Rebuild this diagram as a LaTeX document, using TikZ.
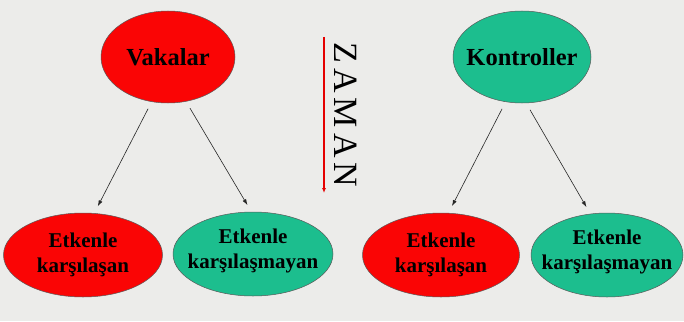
\documentclass[tikz,border=0pt]{standalone}
\usepackage{fontspec}
\setmainfont{Liberation Serif}
\usetikzlibrary{shapes.geometric,arrows.meta}

\definecolor{zemin}{RGB}{236,236,234}
\definecolor{vakakirmizi}{RGB}{250,5,5}
\definecolor{kontrolyesil}{RGB}{28,190,142}

\tikzset{
  vaka/.style={ellipse,draw=black!65,line width=0.5pt,fill=vakakirmizi,inner sep=0pt,outer sep=0pt},
  kontrol/.style={ellipse,draw=black!65,line width=0.5pt,fill=kontrolyesil,inner sep=0pt,outer sep=0pt},
  ustyazi/.style={font=\fontsize{24.5pt}{28pt}\selectfont\bfseries,inner sep=0pt},
  altyazi/.style={font=\fontsize{21pt}{25pt}\selectfont\bfseries,align=center,inner sep=0pt},
  ok/.style={draw=black!85,line width=0.6pt,-{Latex[length=6pt,width=4pt]},shorten <=8pt,shorten >=8pt}
}

\begin{document}
\begin{tikzpicture}[x=1pt,y=-1pt]
\fill [color=zemin] (0, 0) rectangle (684, 321);

% ust
\node (vak) at (168, 57) [vaka,minimum width=134pt,minimum height=92pt,label={[ustyazi]center:Vakalar}] {};
\node (kon) at (522, 57) [kontrol,minimum width=138pt,minimum height=92pt,label={[ustyazi]center:Kontroller}] {};

% alt
\node (vakvar) at (83, 255) [vaka,minimum width=159pt,minimum height=84pt,label={[altyazi]center:Etkenle\\karşılaşan}] {};
\node (vakyok) at (253, 254) [kontrol,minimum width=160pt,minimum height=84pt,label={[altyazi,yshift=3pt]center:Etkenle\\karşılaşmayan}] {};
\node (konvar) at (441, 255) [vaka,minimum width=157pt,minimum height=84pt,label={[altyazi]center:Etkenle\\karşılaşan}] {};
\node (konyok) at (607, 255) [kontrol,minimum width=152pt,minimum height=84pt,label={[altyazi,yshift=3pt]center:Etkenle\\karşılaşmayan}] {};

\draw [ok] (vak.250) -- (vakvar.75);
\draw [ok] (vak.292) -- (vakyok.92);
\draw [ok] (kon.250) -- (konvar.80);
\draw [ok] (kon.275) -- (konyok.112);

% zaman
\coordinate (zbas) at (324, 37);
\coordinate (zson) at (324, 193);
\draw [color=red!90!black,line width=1.2pt,-{Latex[length=5pt,width=4pt]}] (zbas) -- (zson);
\node (zaman) at (346, 115) [rotate=-90,font=\fontsize{34pt}{36pt}\selectfont] {Z\kern5ptA\kern5ptM\kern5ptA\kern5ptN};
\end{tikzpicture}
\end{document}
